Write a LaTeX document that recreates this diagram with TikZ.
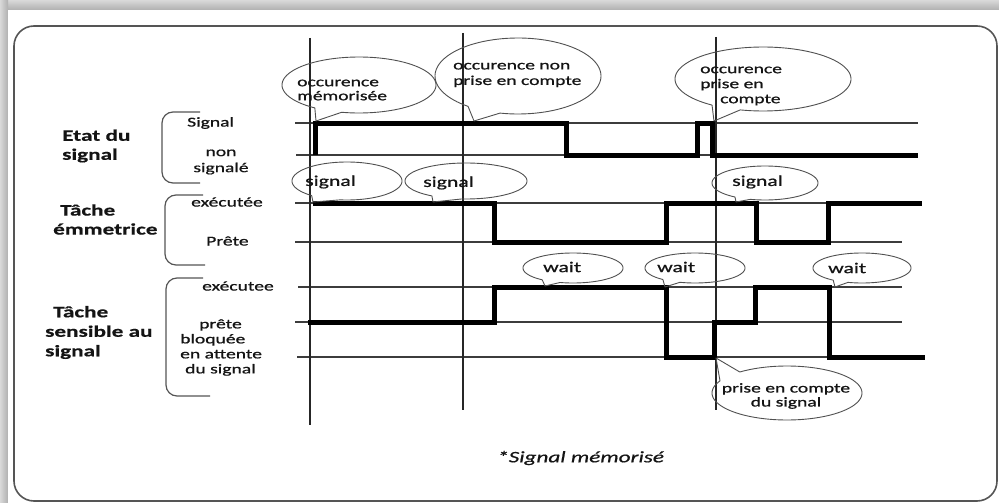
\documentclass[tikz,border=0pt]{standalone}
\usepackage{fontspec}
\setmainfont[FakeStretch=1.45,
  UprightFeatures={FakeBold=0.8},
  BoldFeatures={FakeBold=0.5},
  ItalicFeatures={FakeBold=0.7}]{Carlito}
\usetikzlibrary{calc}
\definecolor{inkc}{HTML}{141414}
\definecolor{framec}{HTML}{555555}
\definecolor{gridc}{HTML}{3C3C3C}
\definecolor{bubblec}{HTML}{505050}
% speech bubble: ellipse (cx,cy,rx,ry) opened between two angles, closed on a tip
\newcommand{\bubbleoutline}[7]{%
  \draw[bubble] (#7) -- plot[domain=#5:#6, samples=100, variable=\t]
    ({#1+#3*cos(\t)}, {#2+#4*sin(\t)}) -- cycle;}
\begin{document}
\begin{tikzpicture}[x=1pt,y=-1pt,
  grid/.style={gridc, line width=1.1pt},
  marker/.style={black!85, line width=1.3pt},
  level/.style={black, line width=5pt, line join=miter},
  bracket/.style={framec, line width=1.2pt, rounded corners=11pt},
  bubble/.style={bubblec, line width=0.9pt, line join=round},
  btext/.style={inner sep=0pt, text=inkc, font=\fontsize{13.5}{14}\selectfont, align=left},
  wtext/.style={inner sep=0pt, text=inkc, font=\fontsize{15}{16}\selectfont},
  rowlabel/.style={inner sep=0pt, text=inkc, font=\fontsize{13.5}{15}\selectfont, align=left},
  grouplabel/.style={inner sep=0pt, text=inkc, font=\fontsize{16}{19}\selectfont\bfseries, align=left}
]
\useasboundingbox (0,0) rectangle (999,503);

% page background and shadow
\fill[white] (0,0) rectangle (999,503);
\shade[top color=gray!30, bottom color=gray!62] (0,0) rectangle (999,10);
\shade[left color=gray!30, right color=gray!62] (0,0) rectangle (8,503);
\fill[white] (8,10) rectangle (999,503);
\draw[framec, line width=1.6pt, rounded corners=20pt] (14,26) rectangle (997,501);

% group labels
\node[grouplabel, anchor=west] (gEtat) at (62,146) {Etat du\\signal};
\node[grouplabel, anchor=west] (gEmet) at (53,219.5) {\hspace*{7pt}Tâche\\émmetrice};
\node[grouplabel, anchor=west, font=\fontsize{16}{19.5}\selectfont\bfseries] (gSens) at (45,332.5) {\hspace*{8pt}Tâche\\sensible au\\signal};

% brackets
\draw[bracket] (200,112) -- (162,112) -- (162,183) -- (200,183);
\draw[bracket] (203,195) -- (165,195) -- (165,265) -- (205,265);
\draw[bracket] (203,278) -- (166,278) -- (166,396) -- (210,396);

% state labels
\node[rowlabel, anchor=west] (lSig) at (187,123) {Signal};
\node[rowlabel, anchor=center, align=center, font=\fontsize{13.5}{16}\selectfont] (lNon) at (221,162) {non\\signalé};
\node[rowlabel, anchor=west] (lExe1) at (191,202) {exécutée};
\node[rowlabel, anchor=west] (lPre1) at (206,241) {Prête};
\node[rowlabel, anchor=west] (lExe2) at (202,286) {exécutee};
\node[rowlabel, anchor=west] (lBlo) at (180,347.5) {\hspace*{19pt}prête\\bloquée\\en attente\\\hspace*{5pt}du signal};

% level lines
\draw[grid] (295,123) -- (918,123);
\draw[grid] (296,155) -- (918,155);
\draw[grid] (295,203) -- (920,203);
\draw[grid] (295,242) -- (902,242);
\draw[grid] (298,287) -- (902,287);
\draw[grid] (295,322) -- (902,322);
\draw[grid] (297,357) -- (925,357);

% time markers
\draw[marker] (310,38) -- (310,425);
\draw[marker] (463,33) -- (463,410);
\draw[marker] (716,37) -- (716,410);

% signal state
\draw[level] (315,155) -- (315,123) -- (566,123) -- (566,155) -- (697,155)
  -- (697,123) -- (712,123) -- (712,155) -- (918,155);
% emitting task
\draw[level] (313,203) -- (494,203) -- (494,242) -- (666,242) -- (666,203)
  -- (756,203) -- (756,242) -- (828,242) -- (828,203) -- (922,203);
% task waiting for the signal
\draw[level] (308,322) -- (494,322) -- (494,287) -- (666,287) -- (666,357)
  -- (714,357) -- (714,322) -- (755,322) -- (755,287) -- (829,287)
  -- (829,357) -- (925,357);

% bubble tips
\coordinate (tA) at (316,121);
\coordinate (tB) at (474,121);
\coordinate (tC) at (714,121);
\coordinate (tD) at (313,202);
\coordinate (tE) at (433,202);
\coordinate (tF) at (736,202);
\coordinate (tG) at (545,286);
\coordinate (tH) at (665,287);
\coordinate (tI) at (835,287);
\coordinate (tJ) at (716,358);

% bubbles
\bubbleoutline{359}{85}{77}{28}{125}{463}{tA}
\bubbleoutline{518}{76}{83}{38}{127}{462.5}{tB}
\bubbleoutline{763}{79}{88}{32}{125.4}{465}{tC}
\bubbleoutline{347}{181}{55}{19}{130}{457}{tD}
\bubbleoutline{466}{181}{61}{18}{124}{454}{tE}
\bubbleoutline{765}{183}{53}{17}{124.5}{466}{tF}
\bubbleoutline{573}{268}{50}{15}{128}{465}{tG}
\bubbleoutline{695}{268}{50}{15}{130}{467.5}{tH}
\bubbleoutline{862}{268}{49}{15}{126}{466.6}{tI}
\bubbleoutline{787}{393}{75}{27}{231}{566.7}{tJ}

% bubble texts
\node[btext, anchor=west] (bA) at (297,90) {occurence\\mémorisée};
\node[btext, anchor=west, font=\fontsize{13.5}{15.5}\selectfont] (bB) at (453,75) {occurence non\\prise en compte};
\node[btext, anchor=west, font=\fontsize{13.5}{15}\selectfont] (bC) at (700,86) {occurence\\prise en\\\hspace*{20pt}compte};
\node[wtext, anchor=west] (bD) at (305,182) {signal};
\node[wtext, anchor=west] (bE) at (423,183) {signal};
\node[wtext, anchor=west] (bF) at (732,182) {signal};
\node[wtext, anchor=west] (bG) at (543,267) {wait};
\node[wtext, anchor=west] (bH) at (657,267) {wait};
\node[wtext, anchor=west] (bI) at (828,268) {wait};
\node[btext, anchor=center, align=center] (bJ) at (786,396) {prise en compte\\du signal};

% footnote
\node[inner sep=0pt, anchor=west, text=inkc, font=\fontsize{16}{18}\selectfont\itshape] (note) at (497,458) {*Signal mémorisé};
\end{tikzpicture}
\end{document}
